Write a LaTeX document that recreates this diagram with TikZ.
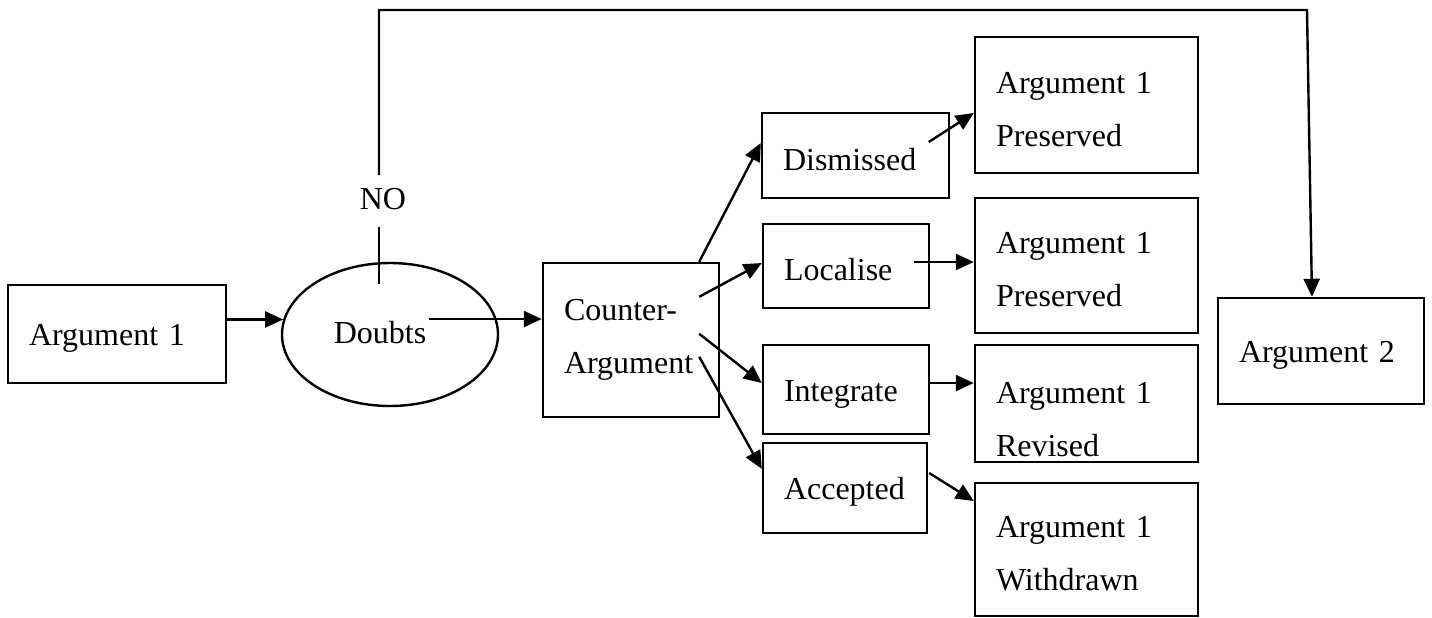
\documentclass[tikz,border=0pt]{standalone}
\usepackage{fontspec}
\setmainfont{Liberation Serif}
\usetikzlibrary{shapes.geometric,
				arrows.meta,
				calc}

\tikzset{
	box/.style={draw, line width=1.2pt, rectangle, align=left, inner xsep=10.5pt, inner ysep=0pt, text height=15pt},
	oval/.style={draw, line width=1.2pt, ellipse, inner sep=0pt},
	link/.style={line width=1.2pt},
	arr/.style={line width=1.2pt, -{Triangle[length=9pt,width=8pt]}}
}

\begin{document}
\begin{tikzpicture}[x=0.5pt, y=-0.5pt, font=\fontsize{16}{26.5}\selectfont]

\useasboundingbox (0,0) rectangle (1432,617);

\node[box, minimum width=109pt, minimum height=49pt, text width=88pt] (arg1) at (117,334) {Argument 1};
\node[oval, minimum width=108pt, minimum height=71.5pt] (doubts) at (390,334.5) {};
\node (doubtstxt) at (380,333) {Doubts};
\node (no) at (383,199) {NO};
\node[box, minimum width=88pt, minimum height=77pt, text width=67pt, text height=10.8pt] (counter) at (631,340) {Counter-\\Argument};

\node[box, minimum width=93.5pt, minimum height=42.5pt, text width=72.5pt] (dismissed) at (855.5,155.5) {Dismissed};
\node[box, minimum width=83pt, minimum height=42pt, text width=62pt] (localise) at (846,266) {Localise};
\node[box, minimum width=83pt, minimum height=44.5pt, text width=62pt] (integrate) at (846,389.5) {Integrate};
\node[box, minimum width=82pt, minimum height=45pt, text width=61pt] (accepted) at (845,488) {Accepted};

\node[box, minimum width=111.5pt, minimum height=68pt, text width=90.5pt] (preserved1) at (1086.5,105) {Argument 1\\Preserved};
\node[box, minimum width=111.5pt, minimum height=67.5pt, text width=90.5pt] (preserved2) at (1086.5,265.5) {Argument 1\\Preserved};
\node[box, minimum width=111.5pt, minimum height=58.5pt, text width=90.5pt, text height=26.8pt] (revised) at (1086.5,403.5) {Argument 1\\Revised};
\node[box, minimum width=111.5pt, minimum height=66.5pt, text width=90.5pt] (withdrawn) at (1086.5,549.5) {Argument 1\\Withdrawn};

\node[box, minimum width=103pt, minimum height=53pt, text width=82pt] (arg2) at (1321,351) {Argument 2};

% doubts
\draw[arr] (arg1.east |- doubts.172) -- (doubts.172);
\coordinate (dstart) at ($(doubtstxt.east)+(-4.5,-14)$);
\draw[arr] (dstart) -- (dstart -| counter.west);

% NO branch
\coordinate (bend) at (1307,10);
\draw[link] ($(no.south)+(-4,10)$) -- ($(doubts.north)+(-11,22)$);
\draw[arr] ($(no.north)+(-4,-6)$) |- (bend) -- ($(arg2.north)+(-9,0)$);

% counter-argument
\draw[arr] ($(counter.north east)+(-21,0)$) -- ($(dismissed.west)+(0,-12.5)$);
\draw[arr] ($(counter.north east)+(-21,35)$) -- ($(localise.west)+(0,-3)$);
\draw[arr] ($(counter.north east)+(-21,72)$) -- ($(integrate.west)+(0,-6.5)$);
\draw[arr] ($(counter.north east)+(-21,95)$) -- ($(accepted.west)+(0,-19)$);

% outcomes
\draw[arr] ($(dismissed.east)+(-21.5,-13.5)$) -- ($(preserved1.west)+(0,8)$);
\coordinate (lstart) at ($(localise.east)+(-16,-4)$);
\draw[arr] (lstart) -- (lstart -| preserved2.west);
\draw[arr] ($(integrate.east)+(0,-6.5)$) -- ($(revised.west)+(0,-20.5)$);
\draw[arr] ($(accepted.east)+(1,-15)$) -- ($(withdrawn.west)+(0,-48.5)$);

\end{tikzpicture}
\end{document}
